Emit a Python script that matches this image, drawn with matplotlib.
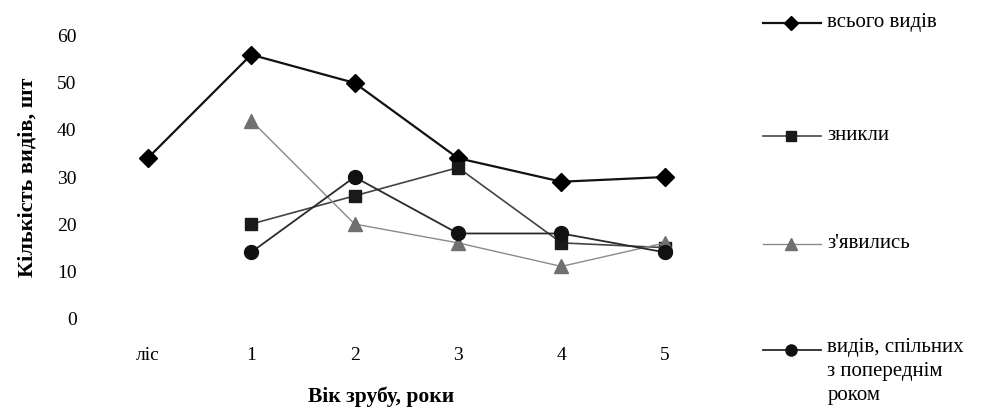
import matplotlib

matplotlib.use("Agg")
import matplotlib.pyplot as plt
from matplotlib.lines import Line2D

plt.rcParams["font.family"] = ["Liberation Serif", "DejaVu Serif"]

categories = ["ліс", "1", "2", "3", "4", "5"]
total = [34, 56, 50, 34, 29, 30]
gone = [None, 20, 26, 32, 16, 15]
appeared = [None, 42, 20, 16, 11, 16]
common = [None, 14, 30, 18, 18, 14]
labels = ["всього видів", "зникли", "з'явились", "видів, спільних\nз попереднім\nроком"]

styles = [
    dict(color="#111111", lw=1.6, marker="D", ms=9, mfc="#000000", mec="#000000"),
    dict(color="#444444", lw=1.2, marker="s", ms=9, mfc="#1a1a1a", mec="#1a1a1a"),
    dict(color="#8a8a8a", lw=1.0, marker="^", ms=10, mfc="#707070", mec="#707070"),
    dict(color="#2a2a2a", lw=1.3, marker="o", ms=10, mfc="#111111", mec="#111111"),
]

fig = plt.figure(figsize=(9.85, 4.17), dpi=100)
ax = fig.add_axes([0.0975, 0.237, 0.63, 0.677])
x = list(range(len(categories)))
series = [total, gone, appeared, common]
for vals, st in zip(series, styles):
    xs = [i for i, v in zip(x, vals) if v is not None]
    ys = [v for v in vals if v is not None]
    ax.plot(xs, ys, **st)

ax.set_xlim(-0.5, 5.5)
ax.set_ylim(0, 60)
ax.set_yticks(range(0, 61, 10))
ax.set_xticks(x)
ax.set_xticklabels(categories)
for s in ax.spines.values():
    s.set_visible(False)
ax.tick_params(axis="x", length=0, pad=21, labelsize=14)
ax.tick_params(axis="y", length=0, pad=14, labelsize=14)
ax.set_xlabel("Вік зрубу, роки", fontsize=15.5, fontweight="bold", labelpad=16, x=0.46)
ax.set_ylabel("Кількість видів, шт", fontsize=16, fontweight="bold", labelpad=14)

# legend drawn by hand to keep the spacing of the original
leg_y = [0.945, 0.675, 0.415, 0.16]
for lab, st, yy in zip(labels, styles, leg_y):
    fig.add_artist(Line2D([0.775, 0.834], [yy, yy], transform=fig.transFigure,
                          color=st["color"], lw=st["lw"]))
    fig.add_artist(Line2D([0.8035], [yy], transform=fig.transFigure, linestyle="none",
                          marker=st["marker"], ms=st["ms"] * 0.8, mfc=st["mfc"], mec=st["mec"]))
    if "\n" in lab:
        fig.text(0.840, yy + 0.03, lab, fontsize=15, va="top", ha="left", linespacing=1.35)
    else:
        fig.text(0.840, yy, lab, fontsize=15, va="center", ha="left")

fig.savefig("out.png")
